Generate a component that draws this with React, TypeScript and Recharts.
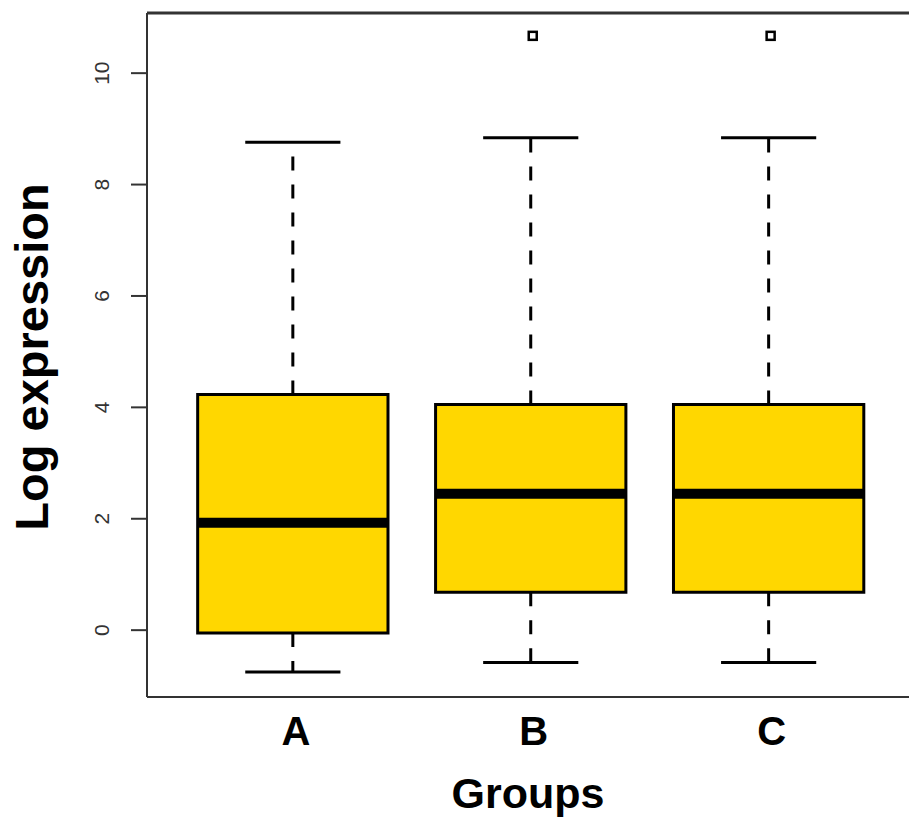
import React from 'react';
import {
  ComposedChart,
  XAxis,
  YAxis,
  Scatter,
  ReferenceArea,
  ReferenceLine,
} from 'recharts';

// ---- data ----
const groups = ['A', 'B', 'C'];
const groupPos = [1, 2, 3];
const whiskerLow = [-0.75, -0.58, -0.58];
const q1 = [-0.05, 0.68, 0.68];
const median = [1.93, 2.45, 2.45];
const q3 = [4.23, 4.05, 4.05];
const whiskerHigh = [8.76, 8.84, 8.84];
const outlierGroup = [2, 3];
const outlierValue = [10.67, 10.67];
const yTicks = [0, 2, 4, 6, 8, 10];

const X_DOMAIN: [number, number] = [0.387, 3.59];
const Y_DOMAIN: [number, number] = [-1.2, 11.08];
const BOX_HALF = 0.4;
const CAP_HALF = 0.2;

const FILL = '#FFD700';
const INK = '#000000';
const AXIS = '#333333';
const FONT = '"Liberation Sans", Arial, Helvetica, sans-serif';

const outliers = outlierGroup.map((g, i) => ({ x: g, y: outlierValue[i] }));

const YTick = (props: any) => {
  const { x, y, payload } = props;
  return (
    <text
      x={x}
      y={y}
      transform={`rotate(-90 ${x} ${y})`}
      textAnchor="middle"
      fontFamily={FONT}
      fontSize={21}
      fill="#333"
    >
      {payload.value}
    </text>
  );
};

const XTick = (props: any) => {
  const { x, y, payload } = props;
  const idx = groupPos.indexOf(payload.value);
  return (
    <text
      x={x + 3}
      y={y + 40}
      textAnchor="middle"
      fontFamily={FONT}
      fontWeight="bold"
      fontSize={40}
      fill="#000"
    >
      {idx >= 0 ? groups[idx] : ''}
    </text>
  );
};

const OutlierShape = (props: any) => {
  const { cx, cy } = props;
  const s = 8;
  return (
    <rect
      x={cx - s / 2 + 2}
      y={cy - s / 2}
      width={s}
      height={s}
      fill="none"
      stroke={INK}
      strokeWidth={2.5}
    />
  );
};

export default function App() {
  return (
    <div style={{ position: 'absolute', left: 0, top: 0, width: 909, height: 819, background: '#fff' }}>
      <ComposedChart
        width={909}
        height={819}
        margin={{ top: 13, right: 0, bottom: 0, left: 0 }}
        data={outliers}
      >
        <XAxis
          type="number"
          dataKey="x"
          domain={X_DOMAIN}
          allowDataOverflow
          ticks={groupPos}
          tick={<XTick />}
          tickLine={false}
          axisLine={{ stroke: AXIS, strokeWidth: 2 }}
          height={122}
          label={{
            content: (p: any) => {
              const vb = p.viewBox;
              return (
                <text
                  x={vb.x + vb.width / 2}
                  y={808}
                  textAnchor="middle"
                  fontFamily={FONT}
                  fontWeight="bold"
                  fontSize={43}
                  fill="#000"
                >
                  Groups
                </text>
              );
            },
          }}
        />
        <YAxis
          type="number"
          dataKey="y"
          domain={Y_DOMAIN}
          allowDataOverflow
          ticks={yTicks}
          tick={<YTick />}
          tickSize={16}
          tickMargin={22}
          tickLine={{ stroke: AXIS, strokeWidth: 2 }}
          axisLine={{ stroke: AXIS, strokeWidth: 2 }}
          width={147}
          label={{
            content: () => (
              <text
                x={48}
                y={357}
                transform="rotate(-90 48 357)"
                textAnchor="middle"
                fontFamily={FONT}
                fontWeight="bold"
                fontSize={47}
                fill="#000"
              >
                Log expression
              </text>
            ),
          }}
        />
        {/* top border of plot box */}
        <ReferenceLine y={Y_DOMAIN[1]} stroke={AXIS} strokeWidth={3} ifOverflow="extendDomain" />

        {groupPos.map((g, i) => (
          <ReferenceLine
            key={`wu-${i}`}
            segment={[{ x: g, y: q3[i] }, { x: g, y: whiskerHigh[i] }]}
            stroke={INK}
            strokeWidth={3}
            strokeDasharray="14 14"
          />
        ))}
        {groupPos.map((g, i) => (
          <ReferenceLine
            key={`wl-${i}`}
            segment={[{ x: g, y: q1[i] }, { x: g, y: whiskerLow[i] }]}
            stroke={INK}
            strokeWidth={3}
            strokeDasharray="14 14"
          />
        ))}
        {groupPos.map((g, i) => (
          <ReferenceLine
            key={`cu-${i}`}
            segment={[{ x: g - CAP_HALF, y: whiskerHigh[i] }, { x: g + CAP_HALF, y: whiskerHigh[i] }]}
            stroke={INK}
            strokeWidth={3}
          />
        ))}
        {groupPos.map((g, i) => (
          <ReferenceLine
            key={`cl-${i}`}
            segment={[{ x: g - CAP_HALF, y: whiskerLow[i] }, { x: g + CAP_HALF, y: whiskerLow[i] }]}
            stroke={INK}
            strokeWidth={3}
          />
        ))}
        {groupPos.map((g, i) => (
          <ReferenceArea
            key={`box-${i}`}
            x1={g - BOX_HALF}
            x2={g + BOX_HALF}
            y1={q1[i]}
            y2={q3[i]}
            fill={FILL}
            fillOpacity={1}
            stroke={INK}
            strokeWidth={3}
          />
        ))}
        {groupPos.map((g, i) => (
          <ReferenceLine
            key={`med-${i}`}
            segment={[{ x: g - BOX_HALF, y: median[i] }, { x: g + BOX_HALF, y: median[i] }]}
            stroke={INK}
            strokeWidth={10}
          />
        ))}
        <Scatter
          data={outliers}
          dataKey="y"
          shape={<OutlierShape />}
          isAnimationActive={false}
        />
      </ComposedChart>
    </div>
  );
}
